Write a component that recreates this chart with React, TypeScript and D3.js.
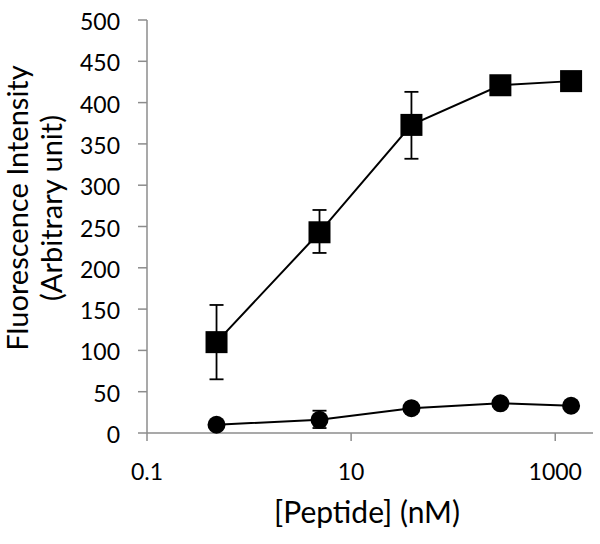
import React from "react";
import * as d3 from "d3";

const concentrations = [0.48, 4.9, 39, 290, 1430];
const squareValues = [110, 243, 373, 421, 426];
const squareErrHigh = [155, 270, 413, null, null];
const squareErrLow = [65, 218, 332, null, null];
const circleValues = [10, 16, 30, 36, 33];
const circleErrHigh = [null, 27, null, null, null];
const circleErrLow = [null, 6, null, null, null];
const yTicks = [0, 50, 100, 150, 200, 250, 300, 350, 400, 450, 500];
const xTicks = [0.1, 10, 1000];
const xTickLabels = ["0.1", "10", "1000"];

const W = 600, H = 544;
const left = 147, right = 593, top = 20, bottom = 433;
const font = "Lato, 'Open Sans', sans-serif";

export default function App() {
  const x = d3.scaleLog().domain([0.1, Math.pow(10, 3.37)]).range([left, right]);
  const y = d3.scaleLinear().domain([0, 500]).range([bottom, top]);
  const line = d3.line<number>().x((_, i) => x(concentrations[i])).y((d) => y(d));
  const cap = 7;
  const errBars = (hi: (number | null)[], lo: (number | null)[]) =>
    hi.map((h, i) => {
      const l = lo[i];
      if (h == null || l == null) return null;
      const cx = x(concentrations[i]);
      return (
        <g key={i} stroke="#000" strokeWidth={1.8}>
          <line x1={cx} x2={cx} y1={y(h)} y2={y(l)} />
          <line x1={cx - cap} x2={cx + cap} y1={y(h)} y2={y(h)} />
          <line x1={cx - cap} x2={cx + cap} y1={y(l)} y2={y(l)} />
        </g>
      );
    });
  return (
    <svg width={W} height={H} style={{ display: "block", position: "absolute", left: 0, top: 0, background: "#fff" }}>
      <rect width={W} height={H} fill="#fff" />
      <g stroke="#8c8c8c" strokeWidth={1.5}>
        <line x1={left} x2={left} y1={top} y2={bottom} />
        <line x1={left} x2={right} y1={bottom} y2={bottom} />
        {yTicks.map((t) => (
          <line key={t} x1={left - 9} x2={left} y1={y(t)} y2={y(t)} />
        ))}
        {xTicks.map((t) => (
          <line key={t} x1={x(t)} x2={x(t)} y1={bottom} y2={bottom + 8} />
        ))}
      </g>
      <g fontFamily={font} fontSize={23} fill="#000">
        {yTicks.map((t) => (
          <text key={t} x={120} y={y(t) + 10} textAnchor="end">{t}</text>
        ))}
        {xTicks.map((t, i) => (
          <text key={t} x={x(t)} y={480} textAnchor="middle">{xTickLabels[i]}</text>
        ))}
      </g>
      <text x={367} y={523} textAnchor="middle" fontFamily={font} fontSize={30}>[Peptide] (nM)</text>
      <g fontFamily={font} fontSize={29} textAnchor="middle">
        <text transform="translate(28,208) rotate(-90)">Fluorescence Intensity</text>
        <text transform="translate(62,208) rotate(-90)">(Arbitrary unit)</text>
      </g>
      {errBars(squareErrHigh, squareErrLow)}
      {errBars(circleErrHigh, circleErrLow)}
      <path d={line(squareValues) || ""} fill="none" stroke="#000" strokeWidth={2} />
      <path d={line(circleValues) || ""} fill="none" stroke="#000" strokeWidth={2} />
      {squareValues.map((v, i) => (
        <rect key={i} x={x(concentrations[i]) - 11} y={y(v) - 11} width={22} height={22} fill="#000" />
      ))}
      {circleValues.map((v, i) => (
        <circle key={i} cx={x(concentrations[i])} cy={y(v)} r={9} fill="#000" />
      ))}
    </svg>
  );
}
